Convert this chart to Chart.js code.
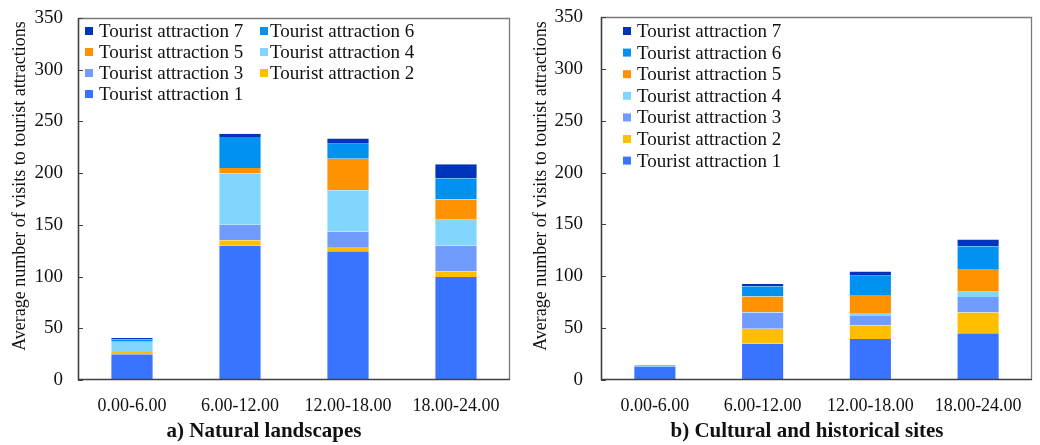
<!DOCTYPE html>
<html>
<head>
<meta charset="utf-8">
<script src="https://cdn.jsdelivr.net/npm/chart.js@4.4.1/dist/chart.umd.min.js"></script>
<style>
  html, body { margin: 0; padding: 0; background: #fff; }
  #wrap { position: relative; width: 1040px; height: 445px; overflow: hidden; }
  .panel { position: absolute; top: 0; height: 445px; }
  .caption {
    position: absolute; top: 418px; transform: translateX(-50%);
    font: bold 21px "Liberation Serif", "Times New Roman", serif; color: #111; white-space: nowrap;
  }
</style>
</head>
<body>
<div id="wrap">
  <div class="panel" style="left:0;width:520px"><canvas id="natural" width="520" height="445"></canvas></div>
  <div class="panel" style="left:520px;width:520px"><canvas id="cultural" width="520" height="445"></canvas></div>
  <div class="caption" style="left:264px">a) Natural landscapes</div>
  <div class="caption" style="left:807px">b) Cultural and historical sites</div>
</div>
<script>
// Time-of-day periods
const periods = ['0.00-6.00', '6.00-12.00', '12.00-18.00', '18.00-24.00'];
const attractionNames = ['Tourist attraction 1', 'Tourist attraction 2', 'Tourist attraction 3',
  'Tourist attraction 4', 'Tourist attraction 5', 'Tourist attraction 6', 'Tourist attraction 7'];
const attractionColors = ['#3874FF', '#FFBF00', '#719CFF', '#81D6FF', '#FF9200', '#0092EE', '#0035BB'];
const yTicks = [0, 50, 100, 150, 200, 250, 300, 350];
const yTitle = 'Average number of visits to tourist attractions';

// a) Natural landscapes: average visits per attraction
const natural1 = [25, 130, 124.5, 99.5];
const natural2 = [2, 5, 4, 5.5];
const natural3 = [0, 15, 15, 25];
const natural4 = [10, 50, 40, 25];
const natural5 = [0, 5, 30.5, 19.5];
const natural6 = [2.5, 30, 14.5, 20.5];
const natural7 = [1, 3, 5, 13.5];

// b) Cultural and historical sites: average visits per attraction
const cultural1 = [13, 35, 39.5, 45];
const cultural2 = [0, 14.5, 13, 20];
const cultural3 = [0, 15.5, 10, 15];
const cultural4 = [0, 0.5, 2, 5];
const cultural5 = [0, 15, 17.5, 22];
const cultural6 = [1, 10, 18.5, 22];
const cultural7 = [0.5, 2, 4, 6.5];

const SERIF = '"Liberation Serif", "Times New Roman", serif';

function makeDatasets(series) {
  return series.map((vals, i) => ({
    label: attractionNames[i],
    data: vals,
    backgroundColor: attractionColors[i],
    borderColor: 'rgba(255,255,255,0.35)',
    borderWidth: { left: 1, right: 1, top: 0, bottom: 0 },
    categoryPercentage: 1.0,
    barPercentage: 0.4
  }));
}

// Frame around the plot, inward y ticks, the y title and a legend inside the plot area
const framePlugin = {
  id: 'frameAndLegend',
  afterDraw(chart, args, opts) {
    const { ctx, chartArea: a } = chart;
    const ys = chart.scales.y;
    ctx.save();
    // top and right edges
    ctx.strokeStyle = '#7a7a7a';
    ctx.lineWidth = 1.3;
    ctx.beginPath();
    ctx.moveTo(a.left, a.top + 0.5);
    ctx.lineTo(a.right - 0.5, a.top + 0.5);
    ctx.lineTo(a.right - 0.5, a.bottom);
    ctx.stroke();
    // left and bottom axes
    ctx.strokeStyle = '#404040';
    ctx.lineWidth = 1.6;
    ctx.beginPath();
    ctx.moveTo(a.left + 0.5, a.top);
    ctx.lineTo(a.left + 0.5, a.bottom - 0.5);
    ctx.lineTo(a.right, a.bottom - 0.5);
    ctx.stroke();
    // inward tick marks
    ctx.lineWidth = 1;
    ys.ticks.forEach(t => {
      const y = Math.round(ys.getPixelForValue(t.value)) + 0.5;
      ctx.beginPath();
      ctx.moveTo(a.left, y);
      ctx.lineTo(a.left + 5, y);
      ctx.stroke();
    });
    // y axis title
    ctx.fillStyle = '#111';
    ctx.font = '18px ' + SERIF;
    ctx.textAlign = 'center';
    ctx.textBaseline = 'middle';
    ctx.translate(opts.titleX, opts.titleY);
    ctx.rotate(-Math.PI / 2);
    ctx.fillText(yTitle, 0, 0);
    ctx.setTransform(1, 0, 0, 1, 0, 0);
    // legend
    ctx.font = '19px ' + SERIF;
    ctx.textAlign = 'left';
    const order = [6, 5, 4, 3, 2, 1, 0];
    order.forEach((di, k) => {
      const ds = chart.data.datasets[di];
      const col = k % opts.cols;
      const row = Math.floor(k / opts.cols);
      const y = opts.y + row * opts.rowDy;
      ctx.fillStyle = ds.backgroundColor;
      ctx.fillRect(opts.squareX[col], y - 4, 8, 8);
      ctx.fillStyle = '#111';
      ctx.fillText(ds.label, opts.textX[col], y + 1);
    });
    ctx.restore();
  }
};

function buildChart(id, series, cfg) {
  return new Chart(document.getElementById(id), {
    type: 'bar',
    data: { labels: periods, datasets: makeDatasets(series) },
    plugins: [framePlugin],
    options: {
      responsive: false,
      animation: false,
      layout: { padding: { left: 0, right: cfg.padRight, top: cfg.padTop, bottom: 0 } },
      plugins: {
        legend: { display: false },
        tooltip: { enabled: false },
        frameAndLegend: cfg.legend
      },
      scales: {
        x: {
          stacked: true,
          grid: { display: false, drawTicks: false },
          border: { display: false },
          ticks: { color: '#111', padding: 15, font: { family: SERIF, size: 18 } },
          afterFit: s => { s.height = 65; }
        },
        y: {
          stacked: true,
          min: 0, max: 350,
          afterBuildTicks: s => { s.ticks = yTicks.map(v => ({ value: v })); },
          grid: { display: false, drawTicks: true, tickLength: cfg.tickGap },
          border: { display: false },
          ticks: { color: '#111', padding: 0, font: { family: SERIF, size: 19 } },
          afterFit: s => { s.width = cfg.axisWidth; }
        }
      }
    }
  });
}

buildChart('natural',
  [natural1, natural2, natural3, natural4, natural5, natural6, natural7],
  { padRight: 10, padTop: 18, axisWidth: 78, tickGap: 15,
    legend: { cols: 2, y: 31, rowDy: 21, squareX: [85, 260], textX: [99, 270],
              titleX: 20, titleY: 186 } });

buildChart('cultural',
  [cultural1, cultural2, cultural3, cultural4, cultural5, cultural6, cultural7],
  { padRight: 8, padTop: 17, axisWidth: 81, tickGap: 18,
    legend: { cols: 1, y: 31, rowDy: 21.6, squareX: [103], textX: [117],
              titleX: 21, titleY: 186 } });
</script>
</body>
</html>
